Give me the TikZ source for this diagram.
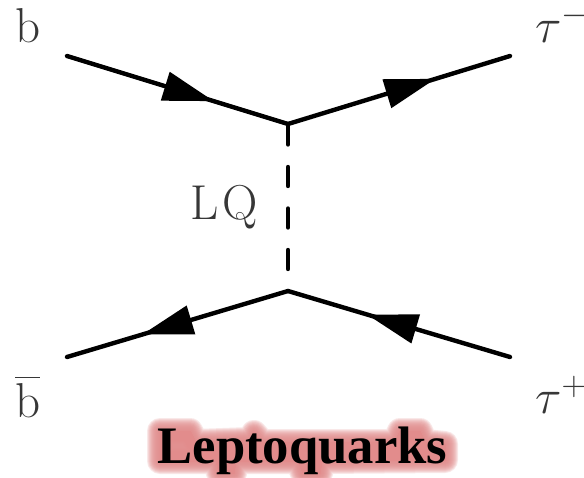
\RequirePackage{fix-cm}
\documentclass[tikz,border=0pt]{standalone}
\usepackage{fontspec}
\usetikzlibrary{decorations.markings,arrows.meta}
\newfontfamily\capfont{Liberation Serif}
\definecolor{labelgrey}{RGB}{55,55,55}
\definecolor{glowred}{RGB}{226,140,140}
\tikzset{
  x=1pt,y=-1pt,
  particle/.style={line width=4.4pt,line cap=round},
  headat/.style={postaction={decorate},decoration={markings,mark=at position #1 with {\arrow{Triangle[length=51pt,width=29pt]}}}},
  lbl/.style={text=labelgrey,inner sep=0pt,font=\fontsize{49}{51}\selectfont,anchor=base west},
  glow/.style={fill=glowred,draw=glowred,line join=round,line width=#1,opacity=.2}
}
\begin{document}
\begin{tikzpicture}
\useasboundingbox[fill=white] (0,0) rectangle (584,477);
\coordinate (top) at (288,124);
\coordinate (bot) at (288,291);
\coordinate (bstart) at (67,56);
\coordinate (tauminus) at (510,56);
\coordinate (bbarend) at (67,357);
\coordinate (tauplus) at (510,357);
\draw[particle,headat=.665] (bstart) -- (top);
\draw[particle,headat=.665] (top) -- (tauminus);
\draw[particle,headat=.66] (bot) -- (bbarend);
\draw[particle,headat=.645] (tauplus) -- (bot);
\draw[line width=4.4pt,line cap=round,dash pattern=on 19pt off 22.5pt,dash phase=40pt] (top) -- (bot);
\node[lbl] (b) at (15,42) {b};
\node[lbl] (bbar) at (15,417) {$\overline{\mathrm{b}\rule{0pt}{38pt}}$};
\node[lbl] (lq) at (190,219) {L\kern4ptQ};
\node[lbl] (taum) at (535,42) {$\tau^-$};
\node[lbl] (taup) at (535,413) {$\tau^+$};
\foreach \w in {26,24,22,20,18,16,14,12,10,8,6,4,2}{
  \path[glow=\w pt] (160,431) -- (190,431) -- (196,442) -- (250,440) -- (254,433) -- (262,442)
    -- (395,442) -- (400,431) -- (420,431) -- (425,442) -- (445,444) -- (445,460) -- (322,461)
    -- (320,473) -- (303,473) -- (298,461) -- (236,461) -- (234,473) -- (219,473) -- (216,461) -- (160,461) -- cycle;
}
\node[inner sep=0pt,anchor=base,font=\capfont\bfseries\fontsize{52.7}{55}\selectfont] (title) at (302.5,463) {Leptoquarks};
\end{tikzpicture}
\end{document}
